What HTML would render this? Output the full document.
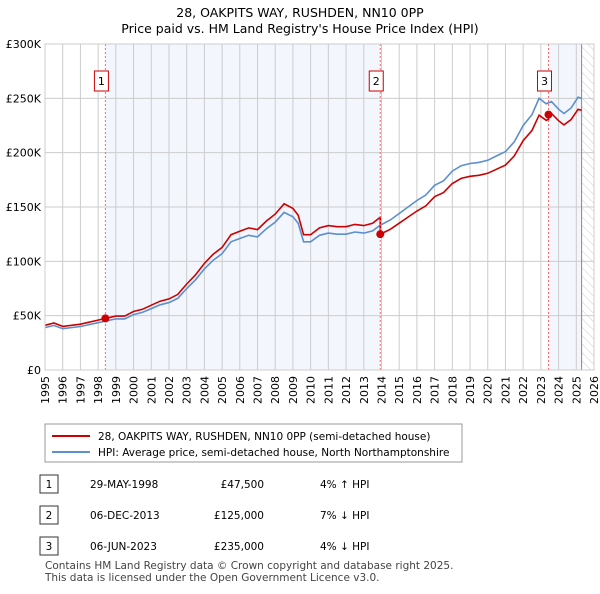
<!DOCTYPE html>
<html><head><meta charset="utf-8"><style>
body{margin:0;background:#fff;font-family:"DejaVu Sans","Liberation Sans",sans-serif;}
svg text{font-family:"DejaVu Sans","Liberation Sans",sans-serif;}
</style></head><body>
<svg id="c" width="600" height="590" xmlns="http://www.w3.org/2000/svg">
<defs><pattern id="hatch" width="6" height="6" patternUnits="userSpaceOnUse" patternTransform="rotate(-45)"><line x1="0" y1="0" x2="0" y2="6" stroke="#ccc" stroke-width="1"/></pattern></defs>
<text x="300" y="17" text-anchor="middle" font-size="12.5">28, OAKPITS WAY, RUSHDEN, NN10 0PP</text>
<text x="300" y="33" text-anchor="middle" font-size="12.5">Price paid vs. HM Land Registry's House Price Index (HPI)</text>
<g id="plot"></g>
<rect x="45" y="424" width="417" height="38" fill="#fff" stroke="#999"/>
<line x1="52" y1="436" x2="90" y2="436" stroke="#cc0000" stroke-width="2"/>
<text x="98" y="440" font-size="10.5">28, OAKPITS WAY, RUSHDEN, NN10 0PP (semi-detached house)</text>
<line x1="52" y1="452" x2="90" y2="452" stroke="#5b8fd0" stroke-width="2"/>
<text x="98" y="456" font-size="10.5">HPI: Average price, semi-detached house, North Northamptonshire</text>
<g font-size="10.5">
<rect x="40" y="475" width="18" height="18" fill="#fff" stroke="#333"/><text x="49" y="488" text-anchor="middle">1</text>
<text x="90" y="488">29-MAY-1998</text><text x="264" y="488" text-anchor="end">£47,500</text><text x="320" y="488">4% ↑ HPI</text>
<rect x="40" y="506" width="18" height="18" fill="#fff" stroke="#333"/><text x="49" y="519" text-anchor="middle">2</text>
<text x="90" y="519">06-DEC-2013</text><text x="264" y="519" text-anchor="end">£125,000</text><text x="320" y="519">7% ↓ HPI</text>
<rect x="40" y="537" width="18" height="18" fill="#fff" stroke="#333"/><text x="49" y="550" text-anchor="middle">3</text>
<text x="90" y="550">06-JUN-2023</text><text x="264" y="550" text-anchor="end">£235,000</text><text x="320" y="550">4% ↓ HPI</text>
</g>
<text x="45" y="569" font-size="10.5" fill="#444">Contains HM Land Registry data © Crown copyright and database right 2025.</text>
<text x="45" y="581" font-size="10.5" fill="#444">This data is licensed under the Open Government Licence v3.0.</text>
</svg>
<script>
const hpiYears=[1995,1995.5,1996,1997,1998,1998.4,1999,1999.5,2000,2000.5,2001,2001.5,2002,2002.5,2003,2003.5,2004,2004.5,2005,2005.5,2006,2006.5,2007,2007.5,2008,2008.5,2009,2009.3,2009.6,2010,2010.5,2011,2011.5,2012,2012.5,2013,2013.5,2013.9,2014.5,2015,2015.5,2016,2016.5,2017,2017.5,2018,2018.5,2019,2019.5,2020,2020.5,2021,2021.5,2022,2022.5,2022.9,2023.3,2023.6,2024,2024.3,2024.7,2025.1,2025.3];
const hpiValues=[39,41,38,40,43.5,45,47,47,51,53,56.5,60,62,66,75,83,93,101,107,118,121,124,122.5,130,136,145,141,135,118,118,124,126,125,125,127,126,128,133,138,144,150,156,161,170,174,183,188,190,191,193,197,201,210,225,235,250,245,247,240,236,241,251,250];
const saleYears=[1998.41,2013.93,2023.43];
const salePrices=[47.5,125,235];
const saleLabels=["1","2","3"];
const yTicks=[0,50,100,150,200,250,300];
const yTickLabels=["£0","£50K","£100K","£150K","£200K","£250K","£300K"];
const xTicks=[1995,1996,1997,1998,1999,2000,2001,2002,2003,2004,2005,2006,2007,2008,2009,2010,2011,2012,2013,2014,2015,2016,2017,2018,2019,2020,2021,2022,2023,2024,2025,2026];
const X0=45,X1=594,Y0=370,Y1=44,dataEnd=2025.3;
const xs=y=>X0+(y-1995)/(2026-1995)*(X1-X0);
const ys=v=>Y0-v/300*(Y0-Y1);
const NS="http://www.w3.org/2000/svg",g=document.getElementById('plot');
function mk(t,a){const e=document.createElementNS(NS,t);for(const k in a)e.setAttribute(k,a[k]);g.appendChild(e);return e;}
function hpiAt(t){for(let i=1;i<hpiYears.length;i++){if(t<=hpiYears[i]){const f=(t-hpiYears[i-1])/(hpiYears[i]-hpiYears[i-1]);return hpiValues[i-1]+f*(hpiValues[i]-hpiValues[i-1]);}}return hpiValues[hpiValues.length-1];}
let e=mk('rect',{x:X0,y:Y1,width:X1-X0,height:Y0-Y1,fill:'#fff'});

e=mk('rect',{x:xs(saleYears[0]),y:Y1,width:xs(saleYears[1])-xs(saleYears[0]),height:Y0-Y1,fill:'#f3f6fd'});

e=mk('rect',{x:xs(saleYears[2]),y:Y1,width:xs(dataEnd)-xs(saleYears[2]),height:Y0-Y1,fill:'#f3f6fd'});

e=mk('rect',{x:xs(dataEnd),y:Y1,width:X1-xs(dataEnd),height:Y0-Y1,fill:'url(#hatch)'});

xTicks.forEach(t=>{e=mk('line',{x1:xs(t),x2:xs(t),y1:Y1,y2:Y0,stroke:'#ccc'});

e=mk('text',{transform:`translate(${xs(t)+4},${Y0+6}) rotate(-90)`,'text-anchor':'end','font-size':'11'});e.textContent=t;
});
yTicks.forEach((t,i)=>{e=mk('line',{x1:X0,x2:X1,y1:ys(t),y2:ys(t),stroke:'#ccc'});

e=mk('text',{x:X0-4,y:ys(t)+4,'text-anchor':'end','font-size':'11'});e.textContent=yTickLabels[i];
});
e=mk('line',{x1:xs(dataEnd),x2:xs(dataEnd),y1:Y1,y2:Y0,stroke:'#888'});

let d=hpiYears.map((t,i)=>(i?'L':'M')+xs(t).toFixed(1)+','+ys(hpiValues[i]).toFixed(1)).join('');
e=mk('path',{d:d,fill:'none',stroke:'#5b8fd0','stroke-width':1.6});

let pd='';
hpiYears.forEach((t,i)=>{let k=0;for(let j=0;j<saleYears.length;j++)if(t>=saleYears[j])k=j;
const r=salePrices[k]/hpiAt(saleYears[k]);pd+=(i?'L':'M')+xs(t).toFixed(1)+','+ys(hpiValues[i]*r).toFixed(1);
if(i<hpiYears.length-1){for(let j=0;j<saleYears.length;j++){if(saleYears[j]>t&&saleYears[j]<hpiYears[i+1]){const h=hpiAt(saleYears[j]);const rp=j>0?salePrices[j-1]/hpiAt(saleYears[j-1]):salePrices[0]/hpiAt(saleYears[0]);pd+='L'+xs(saleYears[j]).toFixed(1)+','+ys(h*rp).toFixed(1)+'L'+xs(saleYears[j]).toFixed(1)+','+ys(salePrices[j]).toFixed(1);}}}});
e=mk('path',{d:pd,fill:'none',stroke:'#cc0000','stroke-width':1.6});

saleYears.forEach((t,i)=>{e=mk('line',{x1:xs(t),x2:xs(t),y1:Y1,y2:Y0,stroke:'#f66','stroke-dasharray':'2,2'});

e=mk('circle',{cx:xs(t),cy:ys(salePrices[i]),r:4,fill:'#cc0000'});

e=mk('rect',{x:xs(t)-11,y:71,width:14,height:20,fill:'#fff',stroke:'#cc0000'});

e=mk('text',{x:xs(t)-4,y:85,'text-anchor':'middle','font-size':'11'});e.textContent=saleLabels[i];
});
e=mk('rect',{x:X0,y:Y1,width:X1-X0,height:Y0-Y1,fill:'none',stroke:'#ccc'});

</script>
</body></html>
